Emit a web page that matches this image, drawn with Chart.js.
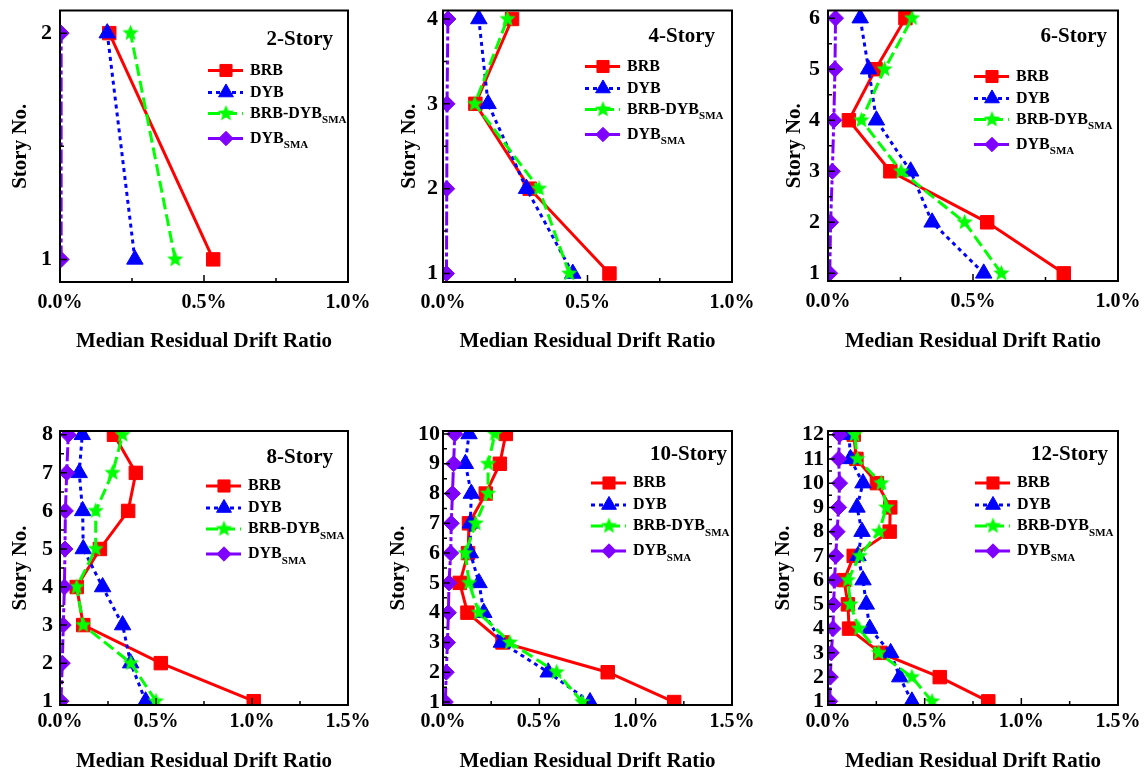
<!DOCTYPE html>
<html>
<head>
<meta charset="utf-8">
<title>Median Residual Drift Ratio</title>
<script src="https://cdn.jsdelivr.net/npm/chart.js@4.4.1/dist/chart.umd.min.js"></script>
<style>
  html, body { margin: 0; padding: 0; background: #fff; overflow: hidden; }
  body { width: 1147px; height: 777px; position: relative; }
  canvas { position: absolute; }
</style>
</head>
<body>
<canvas id="p2"></canvas>
<canvas id="p4"></canvas>
<canvas id="p6"></canvas>
<canvas id="p8"></canvas>
<canvas id="p10"></canvas>
<canvas id="p12"></canvas>
<script>
/* ── Data (residual drift ratio in %, story 1 first) ───────────── */
const X_TICKS_TOP    = [0, 0.5, 1.0];
const X_TICKS_BOTTOM = [0, 0.5, 1.0, 1.5];

const LEGEND_NAMES = ['BRB', 'DYB', 'BRB-DYB', 'DYB'];
const LEGEND_SUBS  = ['', '', 'SMA', 'SMA'];

const STORIES_2 = [1, 2];
const BRB_2 = [0.532, 0.171];
const DYB_2 = [0.260, 0.164];
const HYB_2 = [0.400, 0.245];
const SMA_2 = [0.004, 0.004];

const STORIES_4 = [1, 2, 3, 4];
const BRB_4 = [0.576, 0.300, 0.112, 0.239];
const DYB_4 = [0.449, 0.289, 0.156, 0.124];
const HYB_4 = [0.437, 0.332, 0.110, 0.223];
const SMA_4 = [0.012, 0.013, 0.014, 0.017];

const STORIES_6 = [1, 2, 3, 4, 5, 6];
const BRB_6 = [0.813, 0.549, 0.215, 0.072, 0.164, 0.267];
const DYB_6 = [0.537, 0.359, 0.285, 0.167, 0.140, 0.111];
const HYB_6 = [0.598, 0.471, 0.252, 0.115, 0.195, 0.290];
const SMA_6 = [0.006, 0.009, 0.015, 0.020, 0.024, 0.026];

const STORIES_8 = [1, 2, 3, 4, 5, 6, 7, 8];
const BRB_8 = [1.009, 0.525, 0.121, 0.087, 0.208, 0.355, 0.395, 0.281];
const DYB_8 = [0.446, 0.368, 0.326, 0.222, 0.121, 0.118, 0.100, 0.116];
const HYB_8 = [0.500, 0.369, 0.121, 0.087, 0.186, 0.186, 0.274, 0.326];
const SMA_8 = [0.005, 0.012, 0.017, 0.023, 0.026, 0.028, 0.035, 0.043];

const STORIES_10 = [1, 2, 3, 4, 5, 6, 7, 8, 9, 10];
const BRB_10 = [1.200, 0.855, 0.309, 0.127, 0.087, 0.130, 0.135, 0.222, 0.295, 0.326];
const DYB_10 = [0.763, 0.546, 0.303, 0.212, 0.187, 0.142, 0.142, 0.147, 0.116, 0.135];
const HYB_10 = [0.723, 0.590, 0.347, 0.186, 0.135, 0.116, 0.170, 0.234, 0.234, 0.269];
const SMA_10 = [0.012, 0.017, 0.023, 0.028, 0.031, 0.040, 0.043, 0.049, 0.055, 0.061];

const STORIES_12 = [1, 2, 3, 4, 5, 6, 7, 8, 9, 10, 11, 12];
const BRB_12 = [0.829, 0.578, 0.271, 0.109, 0.103, 0.083, 0.133, 0.319, 0.322, 0.253, 0.147, 0.133];
const DYB_12 = [0.434, 0.371, 0.324, 0.216, 0.198, 0.181, 0.155, 0.176, 0.150, 0.181, 0.116, 0.109];
const HYB_12 = [0.538, 0.434, 0.262, 0.160, 0.116, 0.103, 0.164, 0.264, 0.302, 0.276, 0.152, 0.138];
const SMA_12 = [0.009, 0.012, 0.017, 0.026, 0.029, 0.034, 0.040, 0.047, 0.055, 0.060, 0.055, 0.060];

/* ── Styles ─────────────────────────────────────────────────── */
const FONT = "'Liberation Serif', 'Times New Roman', serif";
const LEGEND_ROWS = [0, 22, 43, 68];

function makeStar(color, R) {
  const c = document.createElement('canvas');
  const s = Math.ceil(R * 2) + 2;
  c.width = c.height = s;
  const g = c.getContext('2d');
  g.fillStyle = color;
  g.beginPath();
  for (let i = 0; i < 10; i++) {
    const r = i % 2 ? R * 0.45 : R;
    const a = -Math.PI / 2 + i * Math.PI / 5;
    g.lineTo(s / 2 + r * Math.cos(a), s / 2 + r * Math.sin(a));
  }
  g.closePath();
  g.fill();
  return c;
}

const SERIES = [
  { color: '#ff0000', dash: [],            point: 'rect',     radius: 9.5 },
  { color: '#0000ff', dash: [4, 4],        point: 'triangle', radius: 9.5 },
  { color: '#00ff00', dash: [12, 5],       point: makeStar('#00ff00', 8.5), radius: 8 },
  { color: '#8000ff', dash: [14, 3, 4, 3], point: 'rectRot',  radius: 8 },
];

/* ── Panels (layout in page px) ─────────────────────────────── */
const PANELS = [
  { id: 'p2',  title: '2-Story',  stories: STORIES_2,  series: [BRB_2, DYB_2, HYB_2, SMA_2],     yMin: 0.9,  yMax: 2.1,   xTicks: X_TICKS_TOP,
    l: 60,  t: 7,   r: 348,  b: 282, cl: 0,   ct: 0,   ch: 357, yPad: 8, xPad: 9, titleDX: 15, titleDY: 29, legendDX: 98,  legendDY: 60 },
  { id: 'p4',  title: '4-Story',  stories: STORIES_4,  series: [BRB_4, DYB_4, HYB_4, SMA_4],     yMin: 0.9,  yMax: 4.1,   xTicks: X_TICKS_TOP,
    l: 443, t: 7,   r: 732,  b: 282, cl: 389, ct: 0,   ch: 357, yPad: 5, xPad: 9, titleDX: 17, titleDY: 26, legendDX: 105, legendDY: 56 },
  { id: 'p6',  title: '6-Story',  stories: STORIES_6,  series: [BRB_6, DYB_6, HYB_6, SMA_6],     yMin: 0.85, yMax: 6.15,  xTicks: X_TICKS_TOP,
    l: 828, t: 7,   r: 1118, b: 281, cl: 774, ct: 0,   ch: 357, yPad: 8, xPad: 9, titleDX: 11, titleDY: 26, legendDX: 102, legendDY: 66 },
  { id: 'p8',  title: '8-Story',  stories: STORIES_8,  series: [BRB_8, DYB_8, HYB_8, SMA_8],     yMin: 0.9,  yMax: 8.1,   xTicks: X_TICKS_BOTTOM,
    l: 60,  t: 431, r: 348,  b: 705, cl: 0,   ct: 415, ch: 362, yPad: 7, xPad: 5, titleDX: 15, titleDY: 27, legendDX: 100, legendDY: 55 },
  { id: 'p10', title: '10-Story', stories: STORIES_10, series: [BRB_10, DYB_10, HYB_10, SMA_10], yMin: 0.9,  yMax: 10.1,  xTicks: X_TICKS_BOTTOM,
    l: 443, t: 431, r: 732,  b: 705, cl: 378, ct: 415, ch: 362, yPad: 3, xPad: 5, titleDX: 5,  titleDY: 24, legendDX: 99,  legendDY: 52 },
  { id: 'p12', title: '12-Story', stories: STORIES_12, series: [BRB_12, DYB_12, HYB_12, SMA_12], yMin: 0.85, yMax: 12.15, xTicks: X_TICKS_BOTTOM,
    l: 828, t: 431, r: 1118, b: 705, cl: 763, ct: 415, ch: 362, yPad: 4, xPad: 5, titleDX: 10, titleDY: 24, legendDX: 101, legendDY: 52 },
];

/* ── Plugins: boxed frame with inward ticks, panel title + legend ── */
const framePlugin = {
  id: 'frame',
  afterDatasetsDraw(chart) {
    const { ctx, chartArea: a, scales: { x, y } } = chart;
    const xs = x.ticks.map(t => t.value);
    const ys = y.ticks.map(t => t.value);
    ctx.save();
    ctx.strokeStyle = '#000';
    ctx.lineWidth = 1.5;
    ctx.beginPath();
    const tickX = (v, len) => { const px = x.getPixelForValue(v); ctx.moveTo(px, a.bottom); ctx.lineTo(px, a.bottom - len); };
    const tickY = (v, len) => { const py = y.getPixelForValue(v); ctx.moveTo(a.left, py); ctx.lineTo(a.left + len, py); };
    xs.forEach((v, i) => { tickX(v, 7); if (i) tickX((v + xs[i - 1]) / 2, 4); });
    ys.forEach((v, i) => { tickY(v, 7); if (i) tickY((v + ys[i - 1]) / 2, 4); });
    ctx.stroke();
    ctx.lineWidth = 2;
    ctx.strokeRect(a.left, a.top, a.right - a.left, a.bottom - a.top);
    ctx.restore();
  }
};

const textPlugin = {
  id: 'panelText',
  afterDraw(chart, args, o) {
    const { ctx, chartArea: a } = chart;
    ctx.save();
    ctx.fillStyle = '#000';
    ctx.textBaseline = 'middle';
    ctx.textAlign = 'right';
    ctx.font = `bold 21px ${FONT}`;
    ctx.fillText(o.title, a.right - o.titleDX, a.top + o.titleDY);

    ctx.textAlign = 'left';
    chart.data.datasets.forEach((ds, i) => {
      const y  = a.top + o.legendDY + LEGEND_ROWS[i];
      const tx = a.right - o.legendDX;
      ctx.strokeStyle = ds.borderColor;
      ctx.lineWidth = 3;
      ctx.setLineDash(ds.borderDash);
      ctx.beginPath();
      ctx.moveTo(tx - 42, y);
      ctx.lineTo(tx - 7, y);
      ctx.stroke();
      ctx.setLineDash([]);
      ctx.fillStyle = ds.pointBackgroundColor;
      ctx.lineWidth = 1;
      Chart.helpers.drawPoint(ctx, { pointStyle: ds.pointStyle, radius: ds.pointRadius * 0.9, rotation: 0, borderWidth: 1 }, tx - 24, y);

      ctx.fillStyle = '#000';
      ctx.font = `bold 16px ${FONT}`;
      ctx.fillText(LEGEND_NAMES[i], tx, y);
      if (LEGEND_SUBS[i]) {
        const w = ctx.measureText(LEGEND_NAMES[i]).width;
        ctx.font = `bold 11px ${FONT}`;
        ctx.fillText(LEGEND_SUBS[i], tx + w, y + 7);
      }
    });
    ctx.restore();
  }
};

/* ── Build charts ───────────────────────────────────────────── */
function buildPanel(p) {
  const canvas = document.getElementById(p.id);
  const width  = p.r + 30 - p.cl;
  canvas.width  = width;
  canvas.height = p.ch;
  canvas.style.left   = p.cl + 'px';
  canvas.style.top    = p.ct + 'px';
  canvas.style.width  = width + 'px';
  canvas.style.height = p.ch + 'px';

  const yW = p.l - p.cl;
  const xH = p.ct + p.ch - p.b;
  const xTickFont = { family: FONT, size: 20, weight: 'bold' };
  const yTickFont = { family: FONT, size: 22, weight: 'bold' };
  const titleFont = { family: FONT, size: 21, weight: 'bold' };

  const datasets = p.series.map((vals, i) => {
    const s = SERIES[i];
    return {
      data: p.stories.map((st, k) => ({ x: vals[k], y: st })),
      showLine: true,
      borderColor: s.color,
      borderWidth: 3,
      borderDash: s.dash,
      borderCapStyle: 'butt',
      tension: 0,
      pointStyle: s.point,
      pointRadius: s.radius,
      pointBackgroundColor: s.color,
      pointBorderColor: s.color,
      pointBorderWidth: 1,
      order: 4 - i,
    };
  });

  return new Chart(canvas, {
    type: 'scatter',
    data: { datasets },
    options: {
      responsive: false,
      animation: false,
      events: [],
      layout: { padding: { top: p.t - p.ct, right: 30, left: 0, bottom: 0 } },
      plugins: {
        legend: { display: false },
        tooltip: { enabled: false },
        panelText: { title: p.title, titleDX: p.titleDX, titleDY: p.titleDY, legendDX: p.legendDX, legendDY: p.legendDY },
      },
      scales: {
        x: {
          type: 'linear', min: 0, max: p.xTicks[p.xTicks.length - 1],
          grid: { display: false, drawTicks: false },
          border: { display: false },
          afterBuildTicks: s => { s.ticks = p.xTicks.map(v => ({ value: v })); },
          afterFit: s => { s.height = xH; s.paddingLeft = 0; s.paddingRight = 0; },
          ticks: { color: '#000', font: xTickFont, padding: p.xPad, maxRotation: 0, autoSkip: false,
                   callback: v => v.toFixed(1) + '%' },
          title: { display: true, text: 'Median Residual Drift Ratio', color: '#000', font: titleFont,
                   padding: { top: 0, bottom: 3 } },
        },
        y: {
          type: 'linear', min: p.yMin, max: p.yMax,
          grid: { display: false, drawTicks: false },
          border: { display: false },
          afterBuildTicks: s => { s.ticks = p.stories.map(v => ({ value: v })); },
          afterFit: s => { s.width = yW; s.paddingTop = 0; s.paddingBottom = 0; },
          ticks: { color: '#000', font: yTickFont, padding: p.yPad, autoSkip: false,
                   callback: v => String(v) },
          title: { display: true, text: 'Story No.', color: '#000', font: titleFont,
                   padding: { top: 8, bottom: 0 } },
        },
      },
    },
    plugins: [framePlugin, textPlugin],
  });
}

PANELS.forEach(buildPanel);
</script>
</body>
</html>
